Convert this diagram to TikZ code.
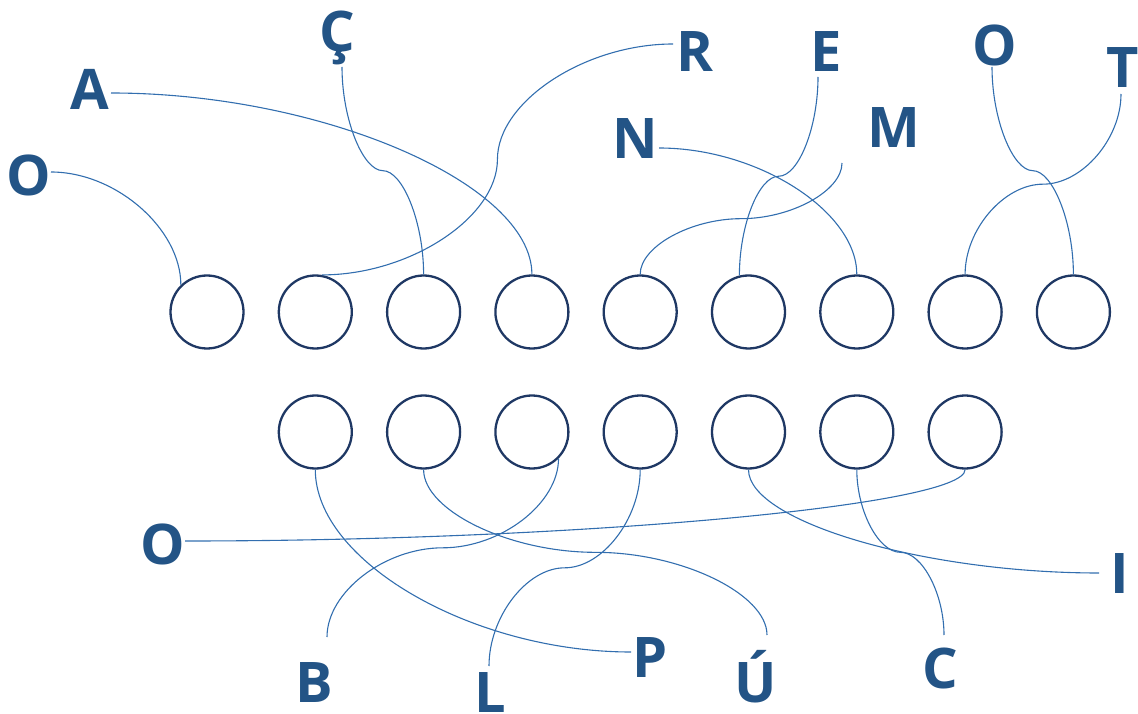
\documentclass[tikz,border=0pt]{standalone}
\usepackage{fontspec}
\newfontfamily\letterfont{Open Sans}
\usetikzlibrary{positioning,calc}
\definecolor{ringblue}{RGB}{31,56,100}
\definecolor{letterblue}{RGB}{35,84,134}
\definecolor{wireblue}{RGB}{50,110,175}

\begin{document}
\begin{tikzpicture}[x=1pt,y=1pt,
        slot/.style={circle, draw=ringblue, line width=2.3pt, minimum size=73pt, inner sep=0pt},
        letter/.style={anchor=base, text=letterblue, inner sep=0pt, font=\letterfont\bfseries\fontsize{56}{56}\selectfont},
        wire/.style={draw=wireblue, line width=1.1pt}]
        \useasboundingbox (0,0) rectangle (1138,713);
        % upper row of slots
        \node[slot] (t1) at (207,401) {};
        \node[slot] (t2) [right=33pt of t1] {};
        \node[slot] (t3) [right=33pt of t2] {};
        \node[slot] (t4) [right=33pt of t3] {};
        \node[slot] (t5) [right=33pt of t4] {};
        \node[slot] (t6) [right=33pt of t5] {};
        \node[slot] (t7) [right=33pt of t6] {};
        \node[slot] (t8) [right=33pt of t7] {};
        \node[slot] (t9) [right=33pt of t8] {};
        % lower row of slots
        \node[slot] (b1) [below=44.7pt of t2] {};
        \node[slot] (b2) [right=33pt of b1] {};
        \node[slot] (b3) [right=33pt of b2] {};
        \node[slot] (b4) [right=33pt of b3] {};
        \node[slot] (b5) [right=33pt of b4] {};
        \node[slot] (b6) [right=33pt of b5] {};
        \node[slot] (b7) [right=33pt of b6] {};
        % letters
        \node[letter] (o1) at (29,517) {O};
        \node[letter] (a) at (90,603) {A};
        \node[letter] (ced) at (337,661) {Ç};
        \node[letter] (r) at (695,641) {R};
        \node[letter] (e) at (826.5,641) {E};
        \node[letter] (n) at (635.5,554) {N};
        \node[letter] (m) at (893.5,565) {M};
        \node[letter] (o2) at (995,647) {O};
        \node[letter] (t) at (1123,625) {T};
        \node[letter] (o3) at (162.5,149) {O};
        \node[letter] (b) at (314,11) {B};
        \node[letter] (l) at (490,0.5) {L};
        \node[letter] (p) at (650,36) {P};
        \node[letter] (u) at (756,11) {Ú};
        \node[letter] (c) at (940.5,25) {C};
        \node[letter] (i) at (1119.5,120) {I};
        % free ends next to the letters
        \coordinate (o1-end) at (51,541);
        \coordinate (a-end) at (111,620);
        \coordinate (ced-end) at (342,646);
        \coordinate (r-end) at (673,669);
        \coordinate (e-end) at (818,636);
        \coordinate (n-end) at (659,565);
        \coordinate (m-end) at (842,550);
        \coordinate (o2-end) at (992,646);
        \coordinate (t-end) at (1121,619);
        \coordinate (o3-end) at (185,172);
        \coordinate (b-end) at (327,76);
        \coordinate (l-end) at (489,47);
        \coordinate (p-end) at (631,61);
        \coordinate (u-end) at (767,78);
        \coordinate (c-end) at (944,78);
        \coordinate (i-end) at (1099,140);
        % turning points halfway
        \coordinate (ced-mid) at ($(ced-end)!0.5!(t3.north)$);
        \coordinate (r-mid) at ($(r-end)!0.5!(t2.80)$);
        \coordinate (e-mid) at ($(e-end)!0.5!(t6.104)$);
        \coordinate (m-mid) at ($(m-end)!0.5!(t5.north)$);
        \coordinate (o2-mid) at ($(o2-end)!0.5!(t9.north)$);
        \coordinate (t-mid) at ($(t-end)!0.5!(t8.north)$);
        \coordinate (u-mid) at ($(b2.south)!0.5!(u-end)$);
        \coordinate (b-mid) at ($(b3.-45)!0.5!(b-end)$);
        \coordinate (l-mid) at ($(b4.south)!0.5!(l-end)$);
        \coordinate (c-mid) at ($(b6.south)!0.5!(c-end)$);
        % upper wires
        \draw[wire] (o1-end) .. controls +(65,0) and +(0,56) .. (t1.134);
        \draw[wire] (a-end) .. controls +(210,0) and +(0,91) .. (t4.north);
        \draw[wire] (n-end) .. controls +(99,0) and +(0,63) .. (t7.north);
        \draw[wire] (ced-end) .. controls +(0,-52) and +(-20,0) .. (ced-mid) .. controls +(20,0) and +(0,52) .. (t3.north);
        \draw[wire] (r-end) .. controls +(-88,0) and +(0,58) .. (r-mid) .. controls +(0,-58) and +(88,0) .. (t2.80);
        \draw[wire] (e-end) .. controls +(0,-50) and +(20,0) .. (e-mid) .. controls +(-20,0) and +(0,50) .. (t6.104);
        \draw[wire] (m-end) .. controls +(0,-28) and +(50,0) .. (m-mid) .. controls +(-50,0) and +(0,28) .. (t5.north);
        \draw[wire] (o2-end) .. controls +(0,-52) and +(-20,0) .. (o2-mid) .. controls +(20,0) and +(0,52) .. (t9.north);
        \draw[wire] (t-end) .. controls +(0,-45) and +(39,0) .. (t-mid) .. controls +(-39,0) and +(0,45) .. (t8.north);
        % lower wires
        \draw[wire] (b1.south) .. controls +(0,-92) and +(-158,0) .. (p-end);
        \draw[wire] (b2.south) .. controls +(0,-41) and +(-86,0) .. (u-mid) .. controls +(86,0) and +(0,41) .. (u-end);
        \draw[wire] (b3.-45) .. controls +(0,-45) and +(58,0) .. (b-mid) .. controls +(-58,0) and +(0,45) .. (b-end);
        \draw[wire] (b4.south) .. controls +(0,-49) and +(38,0) .. (l-mid) .. controls +(-38,0) and +(0,49) .. (l-end);
        \draw[wire] (b5.south) .. controls +(0,-52) and +(-175,0) .. (i-end);
        \draw[wire] (b6.south) .. controls +(0,-41) and +(-22,0) .. (c-mid) .. controls +(22,0) and +(0,41) .. (c-end);
        \draw[wire] (b7.south) .. controls +(0,-36) and +(390,0) .. (o3-end);
\end{tikzpicture}
\end{document}
